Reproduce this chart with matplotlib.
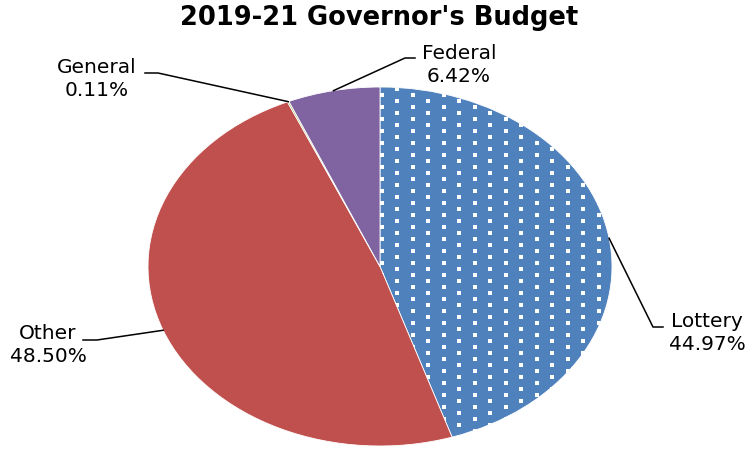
import numpy as np
import matplotlib
matplotlib.use("Agg")
import matplotlib.pyplot as plt

# Budget shares by fund source (percent)
categories = ["Lottery", "Other", "General", "Federal"]
shares = [44.97, 48.50, 0.11, 6.42]
colors = ["#4F81BD", "#C0504D", "#9BBB59", "#8064A2"]
title = "2019-21 Governor's Budget"

W, H = 751, 449
fig = plt.figure(figsize=(W / 100, H / 100), dpi=100)

# pie ellipse geometry in pixels
cx, cy, rx, ry = 380, 266.5, 232, 179.5
ax = fig.add_axes([(cx - rx) / W, (H - cy - ry) / H, 2 * rx / W, 2 * ry / H])

wedges, _ = ax.pie(shares, colors=colors, startangle=90, counterclock=False,
                   wedgeprops=dict(edgecolor="white", linewidth=0.6))
ax.set_aspect("auto")
ax.set_xlim(-1, 1)
ax.set_ylim(-1, 1)
ax.axis("off")


def px2d(px, py):
    return (px - cx) / rx, (cy - py) / ry


# dotted fill pattern on the Lottery slice
gx, gy = [], []
row = 0
for py in np.arange(83, 450, 6.0):
    off = 0 if row % 2 == 0 else 15.5
    for px in np.arange(381.5 + off, 620, 31.0):
        x, y = px2d(px, py)
        gx.append(x)
        gy.append(y)
    row += 1
dots = ax.scatter(gx, gy, marker="s", s=6.5, color="white", linewidths=0, zorder=3)
dots.set_clip_path(wedges[0])

fig.text(379 / W, 1 - 18 / H, title, ha="center", va="center",
         fontsize=18.5, fontweight="bold", family="DejaVu Sans")

# label layout: (elbow pixel, line end pixel, text pixel)
layout = {
    "Lottery": ((653, 327), (663, 327), (707, 333)),
    "Other": ((97, 340), (83, 340), (48, 345)),
    "General": ((158, 73), (145, 73), (97, 79)),
    "Federal": ((405, 58), (415, 58), (459, 65)),
}

cum = np.cumsum([0] + shares[:-1])
total = sum(shares)
for name, val, c0 in zip(categories, shares, cum):
    mid = np.deg2rad(90 - 360 * (c0 + val / 2) / total)
    ax_pt = (np.cos(mid), np.sin(mid))
    (ex, ey), (lx, ly), (tx, ty) = layout[name]
    e = px2d(ex, ey)
    l = px2d(lx, ly)
    ax.plot([ax_pt[0], e[0], l[0]], [ax_pt[1], e[1], l[1]], color="black",
            lw=1.1, clip_on=False, zorder=4)
    fig.text(tx / W, 1 - ty / H, f"{name}\n{val:.2f}%", ha="center", va="center",
             fontsize=14.5, family="DejaVu Sans", linespacing=1.25)

fig.savefig("out.png", dpi=100, facecolor="white")
